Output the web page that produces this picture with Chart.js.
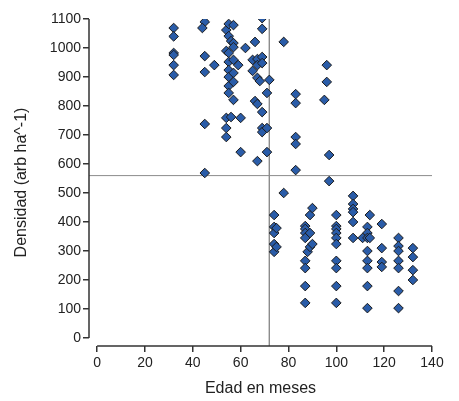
<!DOCTYPE html>
<html>
<head>
<meta charset="utf-8">
<script src="https://cdn.jsdelivr.net/npm/chart.js@4.4.1/dist/chart.umd.min.js"></script>
<style>
  html, body { margin: 0; padding: 0; background: #fff; }
  #wrap { width: 459px; height: 401px; }
</style>
</head>
<body>
<div id="wrap"><canvas id="chart"></canvas></div>
<script>
// edad en meses / densidad (arb ha^-1)
const edad = [
  32, 32, 32, 32, 32, 32,
  45, 44, 45, 45, 45, 45, 49,
  54, 54, 54, 54, 54,
  55, 55, 55, 55, 55, 55, 55, 55,
  56, 56,
  57, 57, 57, 57, 57, 57, 57,
  59, 60, 60, 62, 65, 65, 66, 66,
  67, 67, 67, 67, 67, 68,
  69, 69, 69, 69, 69, 69, 69,
  71, 71, 71, 72, 78, 78,
  83, 83, 83, 83, 83,
  95, 96, 96, 97, 97,
  74, 74, 74, 74, 74, 75, 75,
  87, 87, 87, 87, 87, 87, 87, 87, 88, 89, 89, 89, 90, 90,
  100, 100, 100, 100, 100, 100, 100, 100, 100, 100,
  107, 107, 107, 107, 107, 107,
  114, 113, 113, 111, 113, 114, 113, 113, 113, 113, 113,
  119, 119, 119, 119,
  126, 126, 126, 126, 126, 126, 126,
  132, 132, 132, 132,
];
const densidad = [
  1069, 1040, 983, 976, 941, 907,
  1090, 1069, 972, 917, 738, 569, 941,
  1062, 990, 759, 724, 693,
  1083, 1041, 983, 952, 924, 900, 869, 845,
  1024, 762,
  1079, 1017, 1003, 959, 914, 883, 821,
  941, 759, 641, 1000, 959, 921, 1021, 817,
  962, 941, 897, 807, 610, 886,
  1103, 1066, 969, 948, 779, 724, 710,
  845, 724, 641, 890, 1021, 500,
  841, 810, 693, 669, 579,
  821, 941, 883, 631, 541,
  424, 383, 362, 324, 297, 379, 314,
  386, 376, 362, 345, 266, 241, 179, 121, 297, 424, 362, 314, 448, 324,
  424, 386, 376, 362, 345, 324, 266, 241, 179, 121,
  490, 462, 445, 434, 400, 345,
  424, 383, 362, 345, 345, 345, 300, 266, 241, 179, 103,
  393, 310, 262, 245,
  345, 317, 300, 266, 241, 162, 103,
  310, 279, 234, 200,
];

const edadCorte = 72;
const densidadCorte = 560;

const xTicks = [0, 20, 40, 60, 80, 100, 120, 140];
const yTicks = [0, 100, 200, 300, 400, 500, 600, 700, 800, 900, 1000, 1100];

// axes sit a little apart from the plotting area, like the original
const xMin = -3.4;
const yMin = -27.6;

const puntos = edad.map((e, i) => ({ x: e, y: densidad[i] }));

const axisLines = {
  id: "axisLines",
  afterDatasetsDraw(chart) {
    const { ctx, chartArea, scales } = chart;
    const x = scales.x;
    const y = scales.y;
    ctx.save();
    ctx.strokeStyle = "#333";
    ctx.lineWidth = 1.5;
    ctx.beginPath();
    ctx.moveTo(chartArea.left, y.getPixelForValue(yTicks[0]));
    ctx.lineTo(chartArea.left, y.getPixelForValue(yTicks[yTicks.length - 1]));
    ctx.moveTo(x.getPixelForValue(xTicks[0]), chartArea.bottom);
    ctx.lineTo(x.getPixelForValue(xTicks[xTicks.length - 1]), chartArea.bottom);
    ctx.stroke();
    ctx.restore();
  },
};

const font = { family: "'Liberation Sans', Arial, sans-serif", size: 14 };

new Chart(document.getElementById("chart"), {
  type: "scatter",
  data: {
    datasets: [
      {
        data: puntos,
        pointStyle: "rectRot",
        pointRadius: 4.8,
        pointBackgroundColor: "#2a5ca8",
        pointBorderColor: "#1b1b1b",
        pointBorderWidth: 1,
        order: 0,
      },
      {
        data: [{ x: edadCorte, y: yTicks[yTicks.length - 1] }, { x: edadCorte, y: yMin }],
        showLine: true,
        borderColor: "#8c8c8c",
        borderWidth: 1,
        pointRadius: 0,
        order: 1,
      },
      {
        data: [{ x: xMin, y: densidadCorte }, { x: xTicks[xTicks.length - 1], y: densidadCorte }],
        showLine: true,
        borderColor: "#8c8c8c",
        borderWidth: 1,
        pointRadius: 0,
        order: 1,
      },
    ],
  },
  options: {
    responsive: true,
    maintainAspectRatio: false,
    animation: false,
    layout: { padding: { left: 8, top: 19, right: 27, bottom: 0 } },
    plugins: {
      legend: { display: false },
      tooltip: { enabled: false },
    },
    scales: {
      x: {
        type: "linear",
        min: xMin,
        max: 140,
        border: { display: false },
        grid: { drawOnChartArea: false, drawTicks: true, tickLength: 6, color: "#333", lineWidth: 1.5 },
        ticks: { color: "#222", font, padding: 3, maxRotation: 0, callback: (v) => String(v) },
        afterBuildTicks: (scale) => { scale.ticks = xTicks.map((v) => ({ value: v })); },
        afterFit: (scale) => { scale.height = 55; },
        title: { display: true, text: "Edad en meses", color: "#222", font: { ...font, size: 16 }, padding: { top: 4, bottom: 3 } },
      },
      y: {
        type: "linear",
        min: yMin,
        max: 1100,
        border: { display: false },
        grid: { drawOnChartArea: false, drawTicks: true, tickLength: 6, color: "#333", lineWidth: 1.5 },
        ticks: { color: "#222", font, padding: 2, callback: (v) => String(v) },
        afterBuildTicks: (scale) => { scale.ticks = yTicks.map((v) => ({ value: v })); },
        afterFit: (scale) => { scale.width = 81; },
        title: { display: true, text: "Densidad (arb ha^-1)", color: "#222", font: { ...font, size: 16 }, padding: { top: 4, bottom: 0 } },
      },
    },
  },
  plugins: [axisLines],
});
</script>
</body>
</html>
